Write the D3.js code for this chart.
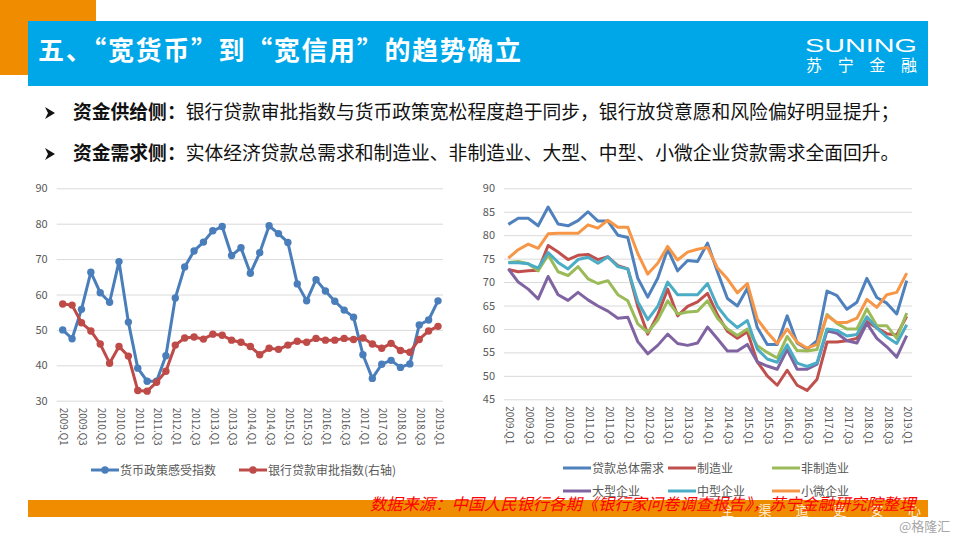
<!DOCTYPE html>
<html><head><meta charset="utf-8">
<script src="https://cdn.jsdelivr.net/npm/d3@7/dist/d3.min.js"></script>
<style>html,body{margin:0;padding:0;background:#fff}svg{display:block}text{font-family:"Noto Sans CJK SC","Noto Sans",sans-serif}</style>
</head><body><svg id="c" width="960" height="540"></svg>
<script>
const quarters=[];
for(let y=2009;y<=2019;y++){for(let q=1;q<=4;q++){if(y===2019&&q>1)break;quarters.push(y+".Q"+q);}}
const policyIndex=[50,47.5,55.8,66.3,60.5,57.8,69.3,52.2,39.2,35.5,35.5,42.7,59,67.8,72.3,74.8,78,79.2,71,73.2,66,71.8,79.4,77.2,74.7,63,58.2,64.2,61,58.1,55.6,53.6,43,36.3,40.3,41.4,39.4,40.4,51.4,52.8,58.2];
const approvalIndex=[57.3,57,52,49.7,46,40.6,45.3,42.6,32.9,32.7,35.2,38.3,45.7,47.7,48,47.4,48.8,48.5,47.1,46.5,45.3,43,44.8,44.5,45.7,46.8,46.5,47.6,47.1,47.1,47.6,47.3,47.7,46,44.8,46.2,44.2,43.7,47.3,49.7,51];
const totalDemand=[82.3,83.6,83.6,82,86,82.4,82,83.1,85,83,83,80,79.5,70.8,66.8,70.8,77,72.4,74.6,74.4,78.3,72.2,66.5,64.9,68.7,60.3,56.7,56.7,62.8,57,55.7,57.5,68.1,67.1,64.2,65.7,70.8,66.7,65.5,63.2,70.3];
const manufacturing=[72.7,72.2,72.4,72.5,77.8,76.4,74.8,75.7,75.9,74.8,75.4,73.5,72.8,64.8,58.9,63,68.5,62.8,64.8,65.8,67.6,63,59.5,58,59.4,53,50,48,51.2,48,46.9,49.3,57.2,57.2,57.5,58,61.6,60.2,59,58.7,62.7];
const nonManufacturing=[74.2,74.4,73.9,72.4,75.8,72.2,71.4,73.3,70.7,69.7,70.3,67.3,66,61.1,59.3,61.9,66,63.2,63.6,63.8,66,62.3,60,58.6,60,56.4,55,53.8,58.4,55.4,55.3,55.6,63.1,61.2,60,60,64.3,60.7,60.7,58,63.4];
const large=[72.8,70,68.5,66.4,71.2,67.3,66.1,67.8,66.2,64.9,63.8,62.3,62.5,57.3,54.7,56.5,58.9,56.9,56.5,57,60.4,57.9,55.3,55.3,56.7,53,52.1,51.4,55.6,51.4,51.4,52.5,59.6,59.1,57.5,57,61.2,58,56.2,54,58.6];
const medium=[74.1,74.1,73.9,73,76.3,74.2,72.8,74.8,75.3,74,75.4,73.3,72.8,65.8,62,64.8,70,67.3,67.3,67.3,69.7,64.8,62.1,60.3,61.8,55.7,53.6,52.9,56.6,52.7,52,52.8,60,59.7,58.5,58.8,62.6,60.2,58.3,56.9,60.9];
const small=[75.1,76.9,78.1,77.2,80.3,80.4,80.4,80.4,82.2,81.5,83.2,81.7,81.7,76.1,71.7,74,77.6,74.7,76.4,77,77.4,73,70.7,67.7,69.7,62.1,59.3,56.9,60,57.2,55.9,56.7,62.8,61.4,61.4,62.3,66.3,64.6,67.3,67.8,71.9];
const leftTicks=[30,40,50,60,70,80,90];
const rightTicks=[45,50,55,60,65,70,75,80,85,90];

const svg=d3.select("#c");
const ink="#595959", grid="#d9d9d9";
svg.append("rect").attr("x",0).attr("y",0).attr("width",96).attr("height",75).attr("fill","#f08c00");
svg.append("rect").attr("x",28).attr("y",21).attr("width",900).attr("height",65).attr("fill","#00a7e8");
svg.append("text").attr("x",38).attr("y",60).attr("font-size",26).attr("font-weight",700).attr("fill","#fff").attr("textLength",483).attr("lengthAdjust","spacing").text("五、“宽货币”到“宽信用”的趋势确立");
svg.append("text").attr("x",805).attr("y",52).attr("font-size",19).attr("fill","#fff").attr("textLength",112).attr("lengthAdjust","spacingAndGlyphs").style("font-family","Liberation Sans").text("SUNING");
svg.append("text").attr("x",806).attr("y",71).attr("font-size",16).attr("fill","#fff").attr("textLength",111).text("苏宁金融");
const bullets=[["资金供给侧：","银行贷款审批指数与货币政策宽松程度趋于同步，银行放贷意愿和风险偏好明显提升；",119],["资金需求侧：","实体经济贷款总需求和制造业、非制造业、大型、中型、小微企业贷款需求全面回升。",160]];
bullets.forEach(b=>{
  svg.append("path").attr("d",`M45 ${b[2]-12}L55 ${b[2]-6}L45 ${b[2]}L48 ${b[2]-6}Z`).attr("fill","#111");
  const t=svg.append("text").attr("x",73).attr("y",b[2]).attr("font-size",18.8).attr("fill","#111");
  t.append("tspan").attr("font-weight",700).text(b[0]);
  t.append("tspan").text(b[1]);
});
svg.append("rect").attr("x",28).attr("y",500).attr("width",900).attr("height",17).attr("fill","#f08c00");
svg.append("text").attr("x",721).attr("y",515).attr("font-size",13).attr("fill","#fff").attr("opacity",0.85).attr("textLength",200).text("全 渠 道 更 安 心");

function axisChart(o){
  const x=d3.scalePoint().domain(quarters).range(o.xr);
  const y=d3.scaleLinear().domain(o.dom).range([o.yb,o.yt]);
  const g=svg.append("g");
  const ya=d3.axisLeft(y).tickValues(o.ticks).tickSize(-(o.gr[1]-o.gr[0])).tickPadding(9);
  const yg=g.append("g").attr("transform",`translate(${o.gr[0]},0)`).call(ya);
  yg.select(".domain").remove();
  yg.selectAll("line").attr("stroke",grid).attr("stroke-width",1);
  yg.selectAll("text").attr("fill",ink).attr("font-size",11);
  const xa=d3.axisBottom(x).tickValues(quarters.filter((d,i)=>i%2===0)).tickSize(0).tickPadding(0);
  const xg=g.append("g").attr("transform",`translate(0,${o.yb})`).call(xa);
  xg.select(".domain").remove();
  xg.selectAll("text").attr("fill",ink).attr("font-size",10)
    .attr("text-anchor","start").attr("dy",0)
    .attr("transform","translate(0,7) rotate(90)").attr("dominant-baseline","middle");
  const line=d3.line().x((d,i)=>x(quarters[i])).y(d=>y(d));
  o.series.forEach(s=>{
    g.append("path").datum(s.v).attr("d",line).attr("fill","none").attr("stroke",s.c).attr("stroke-width",3).attr("stroke-linejoin","round");
    if(o.markers) g.selectAll(null).data(s.v).enter().append("circle").attr("cx",(d,i)=>x(quarters[i])).attr("cy",d=>y(d)).attr("r",3.7).attr("fill",s.c);
  });
  o.legend.forEach(l=>{
    g.append("line").attr("x1",l.x).attr("x2",l.x+28).attr("y1",l.y).attr("y2",l.y).attr("stroke",l.c).attr("stroke-width",3);
    if(o.markers) g.append("circle").attr("cx",l.x+14).attr("cy",l.y).attr("r",3.7).attr("fill",l.c);
    g.append("text").attr("x",l.x+29).attr("y",l.y+4.5).attr("font-size",12).attr("fill",ink).text(l.t);
  });
}
const blue="#4f81bd", red="#c0504d", green="#9bbb59", purple="#8064a2", teal="#4bacc6", orange="#f79646";
axisChart({xr:[62.7,438],dom:[30,90],yb:400.7,yt:188.3,gr:[56.7,443],ticks:leftTicks,markers:true,
  series:[{v:policyIndex,c:"#4a7ebb"},{v:approvalIndex,c:"#be4b48"}],
  legend:[{x:91,y:470,c:"#4a7ebb",t:"货币政策感受指数"},{x:239,y:470,c:"#be4b48",t:"银行贷款审批指数(右轴)"}]});
axisChart({xr:[508.3,906.7],dom:[45,90],yb:399.3,yt:188.3,gr:[504,912],ticks:rightTicks,markers:false,
  series:[{v:totalDemand,c:blue},{v:manufacturing,c:red},{v:nonManufacturing,c:green},{v:large,c:purple},{v:medium,c:teal},{v:small,c:orange}],
  legend:[{x:563,y:468,c:blue,t:"贷款总体需求"},{x:668,y:468,c:red,t:"制造业"},{x:772,y:468,c:green,t:"非制造业"},
          {x:563,y:491,c:purple,t:"大型企业"},{x:668,y:491,c:teal,t:"中型企业"},{x:772,y:491,c:orange,t:"小微企业"}]});
svg.append("text").attr("x",370).attr("y",510).attr("font-size",16.3).attr("font-style","italic").attr("fill","#ff0000").text("数据来源：中国人民银行各期《银行家问卷调查报告》，苏宁金融研究院整理");
svg.append("text").attr("x",899).attr("y",531).attr("font-size",13).attr("fill","#a6a6a6").text("@格隆汇");
</script></body></html>
